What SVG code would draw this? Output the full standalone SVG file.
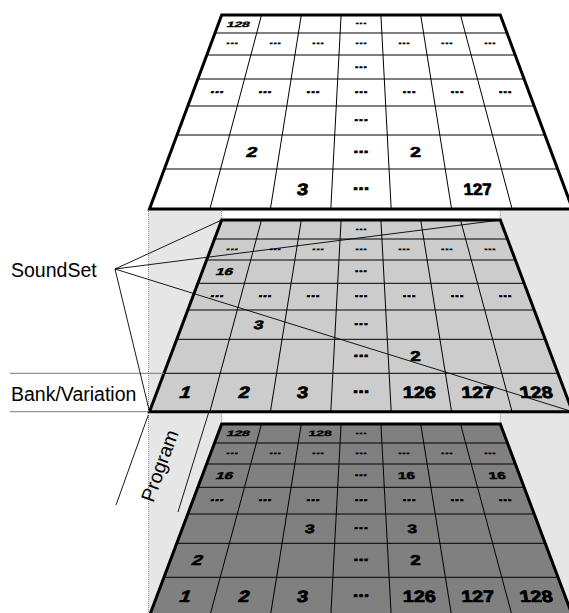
<svg xmlns="http://www.w3.org/2000/svg" xmlns:xlink="http://www.w3.org/1999/xlink" width="569" height="613" viewBox="0 0 569 613">
<style>
.thin{fill:none;stroke:#000;stroke-width:1}
.thick{fill:none;stroke:#000;stroke-width:3;stroke-linejoin:miter}
.n{font-family:"Liberation Sans",Arial,sans-serif;font-weight:bold;font-size:20px;text-anchor:middle;fill:#000;stroke:#000;stroke-width:.9}
.lbl{font-family:"Liberation Sans",Arial,sans-serif;font-size:19.5px;fill:#000}
.dot{fill:none;stroke:#8a8a8a;stroke-width:1;stroke-dasharray:1 1}
.gl{fill:none;stroke:#7a7a7a;stroke-width:1}
.cn{fill:none;stroke:#000;stroke-width:.9}
</style>
<defs>
<path id="mout" d="M221.7 220H500.3L572.5 411.7H149.5Z"/>
<path id="mlines" d="M214.5 239H507.5M206.6 260H515.4M197.9 283.3H524.1M187.8 310H534.2M176.8 339.3H545.2M164 373.3H558M261.5 220L209.9 411.7M301.3 220L270.4 411.7M341.1 220L330.8 411.7M380.9 220L391.2 411.7M420.7 220L451.6 411.7M460.5 220L512.1 411.7"/>
</defs>
<g id="box">
<rect x="148.5" y="209" width="421" height="404" fill="#e6e6e6"/>
<rect x="221.7" y="209" width="278.6" height="11" fill="#fff"/>
<rect x="221.7" y="411.7" width="278.6" height="12.3" fill="#fff"/>
<path class="dot" d="M148.5 209V613M221.7 209V220M500.3 209V220M221.7 411.7V424M500.3 411.7V424"/>
</g>
<g id="top-grid">
<path d="M221.7 15H500.3L572.5 209H149.5Z" fill="#fff"/>
<path class="thin" d="M215 33H507M206.8 55H515.2M197.9 79H524.1M187.8 106H534.2M177 135H545M164.4 169H557.6M261.5 15L209.9 209M301.3 15L270.4 209M341.1 15L330.8 209M380.9 15L391.2 209M420.7 15L451.6 209M460.5 15L512.1 209"/>
<path class="thick" d="M221.7 15H500.3L572.5 209H149.5Z"/>
<text class="n" transform="translate(238.5 24) skewX(-20) scale(.69 .39)" y="7">128</text>
<text class="n" transform="translate(361 24) skewX(-2) scale(.69 .39)" y="1">...</text>
<text class="n" transform="translate(232.1 44) skewX(-20) scale(.73 .45)" y="1">...</text>
<text class="n" transform="translate(275.1 44) skewX(-13) scale(.73 .45)" y="1">...</text>
<text class="n" transform="translate(318 44) skewX(-7) scale(.73 .45)" y="1">...</text>
<text class="n" transform="translate(361 44) skewX(-2) scale(.73 .45)" y="1">...</text>
<text class="n" transform="translate(404 44) skewX(2) scale(.73 .45)" y="1">...</text>
<text class="n" transform="translate(446.9 44) skewX(5) scale(.73 .45)" y="1">...</text>
<text class="n" transform="translate(489.9 44) skewX(9) scale(.73 .45)" y="1">...</text>
<text class="n" transform="translate(361 67) skewX(-2) scale(.77 .5)" y="1">...</text>
<text class="n" transform="translate(216.9 92.5) skewX(-20) scale(.82 .56)" y="1">...</text>
<text class="n" transform="translate(264.9 92.5) skewX(-13) scale(.82 .56)" y="1">...</text>
<text class="n" transform="translate(313 92.5) skewX(-7) scale(.82 .56)" y="1">...</text>
<text class="n" transform="translate(361 92.5) skewX(-2) scale(.82 .56)" y="1">...</text>
<text class="n" transform="translate(409.1 92.5) skewX(2) scale(.82 .56)" y="1">...</text>
<text class="n" transform="translate(457.1 92.5) skewX(5) scale(.82 .56)" y="1">...</text>
<text class="n" transform="translate(505.2 92.5) skewX(9) scale(.82 .56)" y="1">...</text>
<text class="n" transform="translate(361 120.5) skewX(-2) scale(.87 .61)" y="1">...</text>
<text class="n" transform="translate(252.1 152) skewX(-13) scale(.97 .72)" y="7">2</text>
<text class="n" transform="translate(361 152) skewX(-2) scale(.93 .71)" y="1">...</text>
<text class="n" transform="translate(415.5 152) skewX(2) scale(.97 .72)" y="7">2</text>
<text class="n" transform="translate(302.6 189) skewX(-7) scale(.99 .82)" y="7">3</text>
<text class="n" transform="translate(361 189) skewX(-2) scale(.99 .82)" y="1">...</text>
<text class="n" transform="translate(477.7 189) skewX(5) scale(.85 .82)" y="7">127</text>
</g>
<g id="middle-grid">
<use xlink:href="#mout" fill="#ccc"/>
<use xlink:href="#mlines" class="thin"/>
<use xlink:href="#mout" class="thick"/>
<text class="n" transform="translate(361 229.5) skewX(-2) scale(.69 .39)" y="1">...</text>
<text class="n" transform="translate(232.1 249.5) skewX(-20) scale(.73 .45)" y="1">...</text>
<text class="n" transform="translate(275.1 249.5) skewX(-13) scale(.73 .45)" y="1">...</text>
<text class="n" transform="translate(318 249.5) skewX(-7) scale(.73 .45)" y="1">...</text>
<text class="n" transform="translate(361 249.5) skewX(-2) scale(.73 .45)" y="1">...</text>
<text class="n" transform="translate(404 249.5) skewX(2) scale(.73 .45)" y="1">...</text>
<text class="n" transform="translate(446.9 249.5) skewX(5) scale(.73 .45)" y="1">...</text>
<text class="n" transform="translate(489.9 249.5) skewX(9) scale(.73 .45)" y="1">...</text>
<text class="n" transform="translate(224.9 271.7) skewX(-20) scale(.77 .5)" y="7">16</text>
<text class="n" transform="translate(361 271.7) skewX(-2) scale(.77 .5)" y="1">...</text>
<text class="n" transform="translate(216.9 296.7) skewX(-20) scale(.82 .56)" y="1">...</text>
<text class="n" transform="translate(264.9 296.7) skewX(-13) scale(.82 .56)" y="1">...</text>
<text class="n" transform="translate(313 296.7) skewX(-7) scale(.82 .56)" y="1">...</text>
<text class="n" transform="translate(361 296.7) skewX(-2) scale(.82 .56)" y="1">...</text>
<text class="n" transform="translate(409.1 296.7) skewX(2) scale(.82 .56)" y="1">...</text>
<text class="n" transform="translate(457.1 296.7) skewX(5) scale(.82 .56)" y="1">...</text>
<text class="n" transform="translate(505.2 296.7) skewX(9) scale(.82 .56)" y="1">...</text>
<text class="n" transform="translate(258.9 324.7) skewX(-13) scale(.87 .61)" y="7">3</text>
<text class="n" transform="translate(361 324.7) skewX(-2) scale(.87 .61)" y="1">...</text>
<text class="n" transform="translate(361 356.3) skewX(-2) scale(.93 .71)" y="1">...</text>
<text class="n" transform="translate(415.5 356.3) skewX(2) scale(.93 .71)" y="7">2</text>
<text class="n" transform="translate(185.9 392.5) skewX(-20) scale(.99 .82)" y="7">1</text>
<text class="n" transform="translate(244.3 392.5) skewX(-13) scale(.99 .82)" y="7">2</text>
<text class="n" transform="translate(302.6 392.5) skewX(-7) scale(.99 .82)" y="7">3</text>
<text class="n" transform="translate(361 392.5) skewX(-2) scale(.99 .82)" y="1">...</text>
<text class="n" transform="translate(419.4 392.5) skewX(2) scale(.99 .82)" y="7">126</text>
<text class="n" transform="translate(477.7 392.5) skewX(5) scale(.99 .82)" y="7">127</text>
<text class="n" transform="translate(536.1 392.5) skewX(9) scale(.99 .82)" y="7">128</text>
</g>
<g id="bottom-grid">
<g transform="translate(0 204)">
<use xlink:href="#mout" fill="#808080"/>
<use xlink:href="#mlines" class="thin"/>
<use xlink:href="#mout" class="thick"/>
</g>
<text class="n" transform="translate(238.5 433.5) skewX(-20) scale(.69 .39)" y="7">128</text>
<text class="n" transform="translate(320.2 433.5) skewX(-7) scale(.69 .39)" y="7">128</text>
<text class="n" transform="translate(361 433.5) skewX(-2) scale(.69 .39)" y="1">...</text>
<text class="n" transform="translate(232.1 453.5) skewX(-20) scale(.73 .45)" y="1">...</text>
<text class="n" transform="translate(275.1 453.5) skewX(-13) scale(.73 .45)" y="1">...</text>
<text class="n" transform="translate(318 453.5) skewX(-7) scale(.73 .45)" y="1">...</text>
<text class="n" transform="translate(361 453.5) skewX(-2) scale(.73 .45)" y="1">...</text>
<text class="n" transform="translate(404 453.5) skewX(2) scale(.73 .45)" y="1">...</text>
<text class="n" transform="translate(446.9 453.5) skewX(5) scale(.73 .45)" y="1">...</text>
<text class="n" transform="translate(489.9 453.5) skewX(9) scale(.73 .45)" y="1">...</text>
<text class="n" transform="translate(224.9 475.7) skewX(-20) scale(.77 .5)" y="7">16</text>
<text class="n" transform="translate(361 475.7) skewX(-2) scale(.77 .5)" y="1">...</text>
<text class="n" transform="translate(406.4 475.7) skewX(2) scale(.77 .5)" y="7">16</text>
<text class="n" transform="translate(497.1 475.7) skewX(9) scale(.77 .5)" y="7">16</text>
<text class="n" transform="translate(216.9 500.7) skewX(-20) scale(.82 .56)" y="1">...</text>
<text class="n" transform="translate(264.9 500.7) skewX(-13) scale(.82 .56)" y="1">...</text>
<text class="n" transform="translate(313 500.7) skewX(-7) scale(.82 .56)" y="1">...</text>
<text class="n" transform="translate(361 500.7) skewX(-2) scale(.82 .56)" y="1">...</text>
<text class="n" transform="translate(409.1 500.7) skewX(2) scale(.82 .56)" y="1">...</text>
<text class="n" transform="translate(457.1 500.7) skewX(5) scale(.82 .56)" y="1">...</text>
<text class="n" transform="translate(505.2 500.7) skewX(9) scale(.82 .56)" y="1">...</text>
<text class="n" transform="translate(309.9 528.7) skewX(-7) scale(.87 .61)" y="7">3</text>
<text class="n" transform="translate(361 528.7) skewX(-2) scale(.87 .61)" y="1">...</text>
<text class="n" transform="translate(412.1 528.7) skewX(2) scale(.87 .61)" y="7">3</text>
<text class="n" transform="translate(197.6 560.3) skewX(-20) scale(.93 .71)" y="7">2</text>
<text class="n" transform="translate(361 560.3) skewX(-2) scale(.93 .71)" y="1">...</text>
<text class="n" transform="translate(415.5 560.3) skewX(2) scale(.93 .71)" y="7">2</text>
<text class="n" transform="translate(185.9 596.5) skewX(-20) scale(.99 .82)" y="7">1</text>
<text class="n" transform="translate(244.3 596.5) skewX(-13) scale(.99 .82)" y="7">2</text>
<text class="n" transform="translate(302.6 596.5) skewX(-7) scale(.99 .82)" y="7">3</text>
<text class="n" transform="translate(361 596.5) skewX(-2) scale(.99 .82)" y="1">...</text>
<text class="n" transform="translate(419.4 596.5) skewX(2) scale(.99 .82)" y="7">126</text>
<text class="n" transform="translate(477.7 596.5) skewX(5) scale(.99 .82)" y="7">127</text>
<text class="n" transform="translate(536.1 596.5) skewX(9) scale(.99 .82)" y="7">128</text>
</g>
<g id="connectors">
<path class="gl" d="M10 373.3H164M10 411.7H149.5"/>
<path class="cn" d="M115 269L221.7 220M115 269L500.3 220M115 269L572.5 411.7M115 269L149.5 411.7"/>
<path class="cn" d="M148.3 415L116 505M208.5 413L178 512"/>
</g>
<g id="labels">
<text class="lbl" x="11" y="277">SoundSet</text>
<text class="lbl" x="11" y="401">Bank/Variation</text>
<text class="lbl" transform="translate(166 468) rotate(-70)" text-anchor="middle">Program</text>
</g>
</svg>
